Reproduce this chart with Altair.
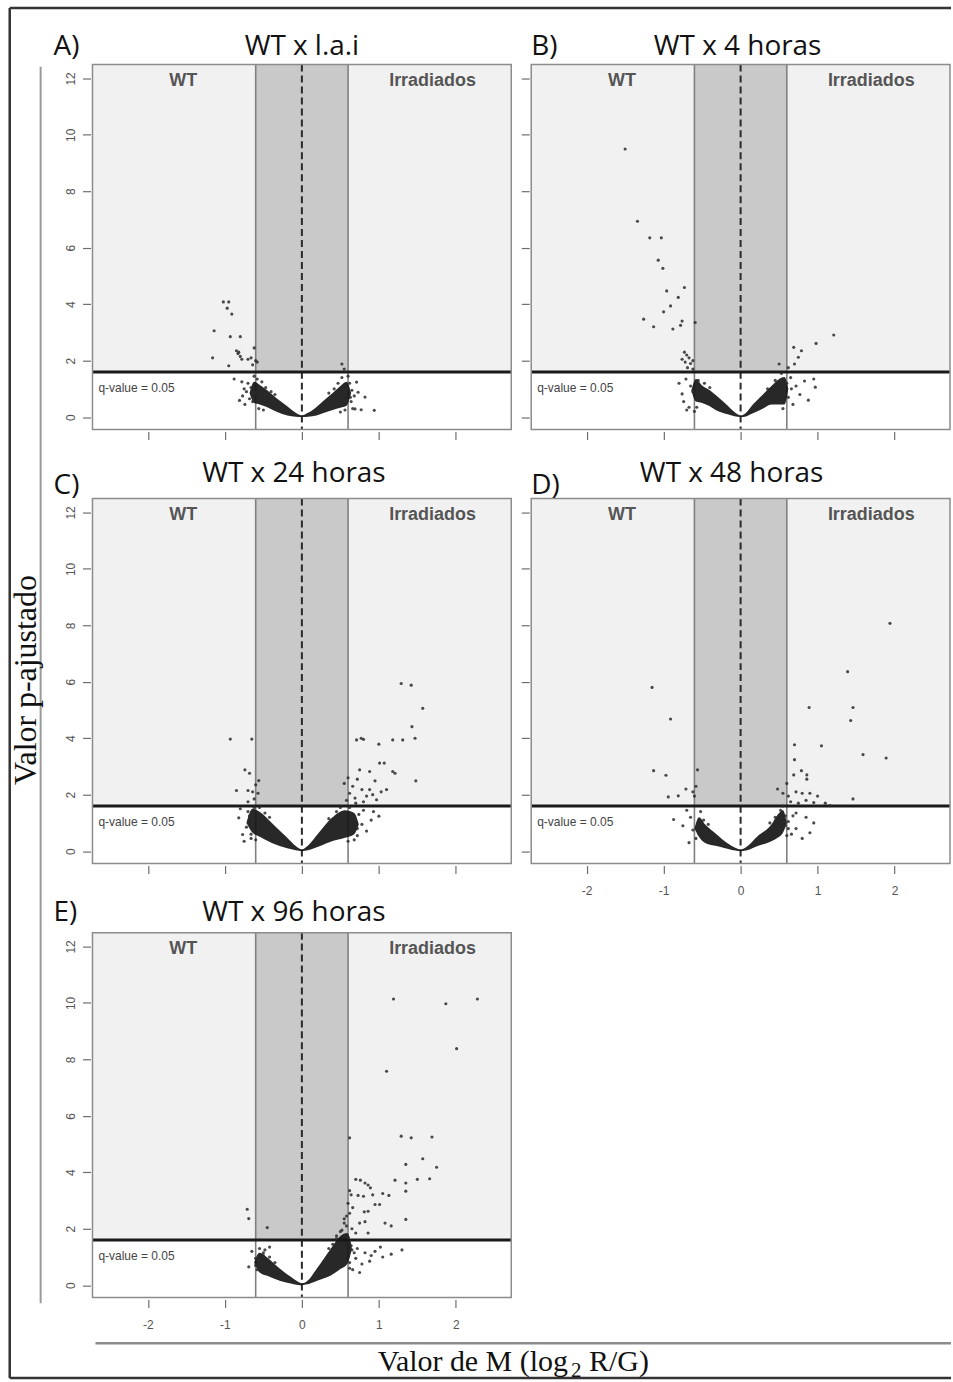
import altair as alt
import pandas as pd

# ---- thresholds, axis ranges and ticks -----------------------------------
FC_CUT = 0.6                 # |M| cut-off (log2 fold change)
Q_LINE = 1.6                 # adjusted p-value line (q-value = 0.05)
X_RANGE = [-2.72, 2.72]
Y_RANGE = [-0.44, 12.49]
X_TICKS = [-2, -1, 0, 1, 2]
Y_TICKS = [0, 2, 4, 6, 8, 10, 12]

PANEL_TITLES = ["WT x l.a.i", "WT x 4 horas", "WT x 24 horas", "WT x 48 horas", "WT x 96 horas"]
PANEL_LETTERS = ["A)", "B)", "C)", "D)", "E)"]
SIDE_LABELS = ["WT", "Irradiados"]
Q_LABEL = "q-value = 0.05"
Y_TITLE = "Valor p-ajustado"
X_TITLE_PARTS = ["Valor de M (log", "2", "R/G)"]

# ---- A) WT x l.a.i --------------------------------------------------------
# dense cloud of non-significant genes: lower / upper envelope along M
A_CORE_X = [-0.68, -0.62, -0.55, -0.45, -0.32, -0.19, -0.08, 0.0, 0.08, 0.19, 0.30, 0.40, 0.50, 0.58, 0.64]
A_CORE_HI = [0.85, 1.25, 1.15, 0.95, 0.65, 0.38, 0.15, 0.06, 0.15, 0.36, 0.62, 0.85, 1.10, 1.25, 0.85]
A_CORE_LO = [0.85, 0.50, 0.45, 0.35, 0.18, 0.06, 0.01, 0.0, 0.01, 0.06, 0.16, 0.25, 0.33, 0.40, 0.85]
A_PTS_X = [-1.02, -0.95, -0.97, -0.91, -1.14, -0.93, -0.80, -1.16, -0.85, -0.83, -0.80, -0.78,
           -0.82, -0.95, -0.70, -0.66, -0.62, -0.60, -0.64, -0.58, 0.52, 0.55,
           -0.88, -0.78, -0.75, -0.81, -0.77, -0.72, -0.70, -0.68, -0.66, -0.64, -0.74, -0.62, -0.60,
           0.62, 0.65, 0.64, 0.66, 0.71, 0.73, 0.82, 0.69, 0.77, 0.94, 0.60, 0.68, 0.58,
           -0.58, -0.52, -0.47, -0.40, -0.35, -0.56, -0.50, 0.35, 0.42, 0.47, 0.52, 0.56, 0.50,
           0.60, 0.63]
A_PTS_Y = [4.08, 4.08, 3.86, 3.65, 3.06, 2.85, 2.85, 2.10, 2.35, 2.25, 2.15, 2.05,
           2.30, 1.82, 2.05, 2.10, 2.45, 2.00, 1.85, 1.95, 1.88, 1.70,
           1.35, 1.25, 1.00, 0.59, 0.75, 0.90, 1.20, 0.65, 1.05, 0.55, 0.45, 1.45, 0.85,
           1.20, 0.95, 0.55, 0.30, 1.24, 0.88, 0.71, 0.29, 0.26, 0.24, 1.45, 0.75, 0.60,
           1.35, 1.25, 1.05, 0.90, 0.80, 0.30, 0.25, 0.85, 1.00, 1.20, 1.40, 0.25, 0.18,
           1.00, 0.70]

# ---- B) WT x 4 horas ------------------------------------------------------
B_CORE_X = [-0.64, -0.58, -0.50, -0.40, -0.32, -0.17, -0.08, 0.0, 0.08, 0.13, 0.28, 0.40, 0.50, 0.57, 0.62]
B_CORE_HI = [0.95, 1.35, 1.12, 0.95, 0.77, 0.41, 0.18, 0.06, 0.18, 0.35, 0.77, 1.10, 1.35, 1.42, 1.00]
B_CORE_LO = [0.95, 0.55, 0.50, 0.38, 0.24, 0.10, 0.03, 0.0, 0.03, 0.10, 0.29, 0.45, 0.45, 0.45, 1.00]
B_PTS_X = [-1.50, -1.34, -1.18, -1.03, -1.07, -1.01, -0.96, -0.73, -0.81, -0.91, -1.00, -1.26,
           -1.13, -0.88, -0.78, -0.76, -0.59, -0.73, -0.70, -0.67, -0.72, -0.65, -0.62, -0.69,
           -0.62, -0.76, 1.21, 0.98, 0.69, 0.79, 0.75, 0.70, 0.50, 0.62,
           0.95, 0.97, 0.83, 0.77, 0.68, 0.72, 0.65, 0.88, 0.62,
           -0.76, -0.71, -0.67, -0.65, -0.74, -0.62, -0.80, -0.70,
           -0.55, -0.47, -0.40, -0.57, -0.60, 0.35, 0.45, 0.53, 0.55, 0.60, 0.66]
B_PTS_Y = [9.50, 6.94, 6.35, 6.35, 5.56, 5.27, 4.47, 4.59, 4.24, 3.94, 3.73, 3.47,
           3.20, 3.12, 3.25, 3.40, 3.35, 2.30, 2.20, 2.10, 1.95, 1.90, 2.00, 1.75,
           1.70, 2.05, 2.91, 2.61, 2.47, 2.35, 2.12, 1.88, 1.88, 1.75,
           1.35, 1.06, 1.28, 0.80, 0.45, 1.10, 1.40, 0.60, 0.70,
           0.82, 1.35, 0.35, 1.10, 0.55, 0.90, 1.20, 0.25,
           1.30, 1.20, 1.05, 0.35, 0.20, 1.00, 1.30, 1.55, 0.30, 1.20, 1.00]

# ---- C) WT x 24 horas -----------------------------------------------------
C_CORE_X = [-0.72, -0.64, -0.56, -0.39, -0.19, -0.08, 0.0, 0.08, 0.22, 0.39, 0.56, 0.68, 0.74]
C_CORE_HI = [1.00, 1.50, 1.41, 1.00, 0.47, 0.18, 0.06, 0.20, 0.65, 1.18, 1.45, 1.35, 0.95]
C_CORE_LO = [1.00, 0.65, 0.53, 0.29, 0.10, 0.03, 0.0, 0.03, 0.16, 0.35, 0.47, 0.60, 0.95]
C_PTS_X = [1.29, 1.42, 1.57, 1.43, 1.47, 1.31, 1.18, 1.00, 0.71, 0.77, 0.80, 1.48, 1.18, 1.21,
           1.01, 1.07, 0.88, 0.75, 1.10, 0.95, 0.88, 0.97, 0.78, 0.69, 0.66, 0.62, 0.58, 0.55,
           0.72, 0.84, 0.92, 1.03, 0.70, 0.80, 0.60,
           -0.93, -0.65, -0.74, -0.68, -0.85, -0.60, -0.56, -0.64, -0.57, -0.70, -0.62, -0.70,
           1.00, 0.84, 0.78, 0.74, 0.90, 0.72, 0.68, 0.80, 0.93, 0.70, 0.64,
           -0.77, -0.82, -0.72, -0.70, -0.80, -0.66, -0.75, -0.68,
           -0.62, -0.55, -0.48, -0.42, -0.60, -0.66, 0.45, 0.50, 0.62, 0.66, 0.72, 0.60, 0.35]
C_PTS_Y = [5.94, 5.88, 5.06, 4.41, 4.00, 3.94, 3.94, 3.79, 3.94, 4.00, 3.96, 2.49, 2.82, 2.76,
           3.12, 3.12, 2.82, 2.88, 2.18, 2.49, 2.18, 1.82, 2.18, 1.88, 2.30, 2.05, 1.80, 2.40,
           2.55, 1.95, 2.00, 2.10, 1.70, 1.75, 2.60,
           3.97, 3.97, 2.88, 2.76, 2.15, 2.35, 2.50, 2.10, 2.05, 2.15, 1.85, 1.75,
           1.24, 0.71, 0.95, 1.30, 1.10, 0.55, 0.40, 1.45, 1.40, 1.10, 1.00,
           0.59, 1.18, 0.85, 1.40, 1.50, 0.45, 0.35, 1.25,
           1.55, 1.55, 1.35, 1.20, 0.40, 0.60, 1.40, 1.55, 1.55, 1.20, 0.80, 0.35, 1.15]

# ---- D) WT x 48 horas -----------------------------------------------------
D_CORE_X = [-0.60, -0.54, -0.46, -0.31, -0.16, -0.07, 0.0, 0.07, 0.22, 0.40, 0.48, 0.55, 0.60]
D_CORE_HI = [0.80, 1.20, 0.94, 0.59, 0.26, 0.12, 0.06, 0.14, 0.53, 0.94, 1.29, 1.45, 1.00]
D_CORE_LO = [0.80, 0.50, 0.29, 0.18, 0.08, 0.02, 0.0, 0.02, 0.18, 0.35, 0.47, 0.65, 1.00]
D_PTS_X = [1.94, 1.39, 0.89, 1.46, 1.43, -1.15, -0.91, 1.05, 0.70, 1.59, 1.89, 0.70, 0.79,
           0.86, 0.69, 0.86, -1.13, -0.97, -0.94, -0.81, -0.71, -0.62, -0.60, -0.56, -0.58,
           0.48, 0.55, 0.62, 0.72, 0.80, 0.90, 1.00, 1.46, 0.65, 0.75, 0.85, 1.10, 0.95, 0.60, 1.16,
           0.72, 0.85, 0.95, 0.72, 0.66, 0.80, 0.62, 0.68, 0.90, -0.87, -0.75, -0.67, -0.62,
           -0.65, -0.70, 0.58,
           -0.52, -0.48, -0.42, -0.55, -0.58, 0.45, 0.52, 0.55, 0.58, 0.62, 0.60, 0.38]
D_PTS_Y = [8.07, 6.36, 5.09, 5.09, 4.63, 5.80, 4.68, 3.73, 3.77, 3.42, 3.30, 3.24, 2.85,
           2.70, 2.70, 2.55, 2.85, 2.69, 1.92, 1.96, 2.20, 2.10, 1.95, 2.88, 2.30,
           2.20, 2.05, 1.95, 2.10, 2.05, 2.05, 1.95, 1.85, 1.75, 1.70, 1.80, 1.70, 1.72, 2.40, 1.61,
           1.35, 1.20, 1.00, 0.80, 0.60, 0.45, 1.05, 1.25, 0.65, 1.12, 0.90, 0.30, 0.75,
           1.20, 1.45, 0.90,
           1.40, 1.10, 0.95, 0.70, 0.45, 1.20, 1.45, 1.60, 1.25, 0.80, 0.55, 1.00]

# ---- E) WT x 96 horas -----------------------------------------------------
E_CORE_X = [-0.62, -0.55, -0.45, -0.28, -0.13, -0.05, 0.0, 0.07, 0.19, 0.37, 0.50, 0.59, 0.65]
E_CORE_HI = [0.80, 1.15, 0.98, 0.57, 0.27, 0.12, 0.07, 0.15, 0.57, 1.27, 1.74, 1.85, 1.30]
E_CORE_LO = [0.80, 0.45, 0.33, 0.15, 0.05, 0.01, 0.0, 0.03, 0.15, 0.33, 0.57, 0.75, 1.30]
E_PTS_X = [1.19, 1.87, 2.28, 2.01, 1.10, 0.62, 1.29, 1.42, 1.69, 1.57, 1.35, 1.75, 1.66, 1.50,
           1.35, 1.21, 1.35, 0.70, 0.76, 0.82, 0.86, 0.89, 0.62, 0.64, 0.73, 0.80, 0.92, 1.05,
           1.13, 0.95, 1.01, 0.86, 0.81, 0.66, 0.62, 0.60, 1.35, 0.75, 0.82, 1.08, 1.16, 0.86,
           0.65, 0.70, 0.58, 0.55, 0.50, 0.45, 0.60,
           -0.71, -0.69, -0.45, -0.69,
           1.16, 1.05, 0.95, 0.90, 0.82, 0.88, 0.78, 0.72, 0.70, 0.66, 0.75, 1.30, 1.02, 0.64,
           0.68, 0.62,
           -0.55, -0.50, -0.60, -0.48, -0.58, -0.42, -0.65,
           -0.55, -0.50, -0.42, -0.35, -0.60, 0.40, 0.45, 0.52, 0.55, 0.58, 0.62, 0.65, 0.62, 0.35]
E_PTS_Y = [10.14, 9.97, 10.14, 8.38, 7.58, 5.22, 5.28, 5.22, 5.25, 4.48, 4.28, 4.18, 3.77, 3.75,
           3.62, 3.72, 3.33, 3.75, 3.72, 3.62, 3.55, 3.45, 3.35, 3.20, 3.18, 3.15, 3.20, 3.25,
           3.18, 2.86, 2.86, 2.62, 2.60, 2.75, 2.55, 2.90, 2.33, 2.20, 2.25, 2.20, 2.10, 1.85,
           2.00, 1.85, 2.10, 2.35, 1.90, 1.75, 1.70,
           2.69, 2.36, 2.04, 0.65,
           1.10, 1.00, 1.20, 1.05, 1.15, 0.85, 0.75, 1.30, 0.95, 0.55, 0.45, 1.25, 1.35, 1.40,
           1.15, 0.80,
           1.30, 1.05, 0.95, 1.25, 0.55, 1.35, 1.20,
           0.85, 1.15, 1.00, 0.80, 0.70, 1.45, 1.65, 1.95, 2.20, 2.45, 1.50, 1.25, 0.60, 1.30]

PANEL_DATA = [
    (A_PTS_X, A_PTS_Y, A_CORE_X, A_CORE_LO, A_CORE_HI),
    (B_PTS_X, B_PTS_Y, B_CORE_X, B_CORE_LO, B_CORE_HI),
    (C_PTS_X, C_PTS_Y, C_CORE_X, C_CORE_LO, C_CORE_HI),
    (D_PTS_X, D_PTS_Y, D_CORE_X, D_CORE_LO, D_CORE_HI),
    (E_PTS_X, E_PTS_Y, E_CORE_X, E_CORE_LO, E_CORE_HI),
]

# ---- layout (pixels, relative to each plot area) --------------------------
W, H = 420, 366
TITLE_POS = [(210, -9.4), (207, -9.4), (202, -16.3), (201, -16.3), (202, -11.6)]
LETTER_POS = [(-39, -9.4), (0, -9.4), (-39, -4.7), (0, -4.7), (-39, -11.6)]
SHOW_X_LABELS = [False, False, False, True, True]
SHOW_Y_LABELS = [True, False, True, False, True]

TITLE_FONT = "Open Sans"
SANS = "Liberation Sans"
SERIF = "Liberation Serif"
HYPHEN_MINUS = "datum.value < 0 ? '-' + abs(datum.value) : '' + datum.value"


def one_row(text=""):
    return pd.DataFrame({"label": [text]})


def text_at(text, x, y, **style):
    return alt.Chart(one_row(text)).mark_text(**style).encode(
        x=alt.value(x), y=alt.value(y), text="label:N"
    )


def line_at(x, x2, y, y2, **style):
    return alt.Chart(one_row()).mark_rule(**style).encode(
        x=alt.value(x), x2=alt.value(x2), y=alt.value(y), y2=alt.value(y2)
    )


def panel(i):
    pts_x, pts_y, core_x, core_lo, core_hi = PANEL_DATA[i]

    xs = alt.Scale(domain=X_RANGE, nice=False, zero=False)
    ys = alt.Scale(domain=Y_RANGE, nice=False, zero=False)
    x_axis = alt.Axis(
        values=X_TICKS, labels=SHOW_X_LABELS[i], ticks=True, tickSize=8, tickColor="#6e6e6e",
        tickWidth=1.2, domain=False, grid=False, title=None, offset=2, labelFontSize=12,
        labelColor="#555555", labelPadding=12, labelFont=SANS, labelExpr=HYPHEN_MINUS,
    )
    y_axis = alt.Axis(
        values=Y_TICKS, labels=SHOW_Y_LABELS[i], ticks=True, tickSize=8, tickColor="#6e6e6e",
        tickWidth=1.2, domain=False, grid=False, title=None, offset=2, labelFontSize=12,
        labelColor="#555555", labelPadding=5, labelFont=SANS, labelAngle=270,
        labelAlign="center", labelBaseline="bottom",
    )

    def X(field):
        return alt.X(field, type="quantitative", scale=xs, axis=x_axis)

    def Y(field):
        return alt.Y(field, type="quantitative", scale=ys, axis=y_axis)

    regions = pd.DataFrame({
        "x0": [X_RANGE[0], -FC_CUT],
        "x1": [X_RANGE[1], FC_CUT],
        "y0": [Q_LINE, Q_LINE],
        "y1": [Y_RANGE[1], Y_RANGE[1]],
        "fill": ["#f1f1f1", "#c9c9c9"],
    })
    shade = alt.Chart(regions).mark_rect().encode(
        x=X("x0"), x2="x1", y=Y("y0"), y2="y1", color=alt.Color("fill:N", scale=None)
    )

    cuts = alt.Chart(pd.DataFrame({"m": [-FC_CUT, FC_CUT]})).mark_rule(
        color="#808080", strokeWidth=1.6
    ).encode(x=X("m"))

    zero = alt.Chart(pd.DataFrame({"m": [0.0]})).mark_rule(
        color="#2a2a2a", strokeWidth=2, strokeDash=[7, 4]
    ).encode(x=X("m"))

    qline = alt.Chart(pd.DataFrame({"q": [Q_LINE]})).mark_rule(
        color="#1a1a1a", strokeWidth=3
    ).encode(y=Y("q"))

    core = alt.Chart(pd.DataFrame({"m": core_x, "lo": core_lo, "hi": core_hi})).mark_area(
        color="#161616", interpolate="monotone", opacity=0.92
    ).encode(x=X("m"), y=Y("hi"), y2="lo")

    points = alt.Chart(pd.DataFrame({"m": pts_x, "p": pts_y})).mark_circle(
        size=10, color="#2b2b2b", opacity=0.85
    ).encode(x=X("m"), y=Y("p"))

    frame = alt.Chart(one_row()).mark_rect(
        filled=False, stroke="#8c8c8c", strokeWidth=1.5
    ).encode(x=alt.value(0), x2=alt.value(W), y=alt.value(0), y2=alt.value(H))

    side_style = dict(font=SANS, fontSize=18, fontWeight="bold", color="#555555",
                      align="center", baseline="middle")
    wt = text_at(SIDE_LABELS[0], 91, 16.5, **side_style)
    irr = text_at(SIDE_LABELS[1], 341, 16.5, **side_style)
    qlab = text_at(Q_LABEL, 6, 324, font=SANS, fontSize=12, color="#444444",
                   align="left", baseline="middle")

    tx, ty = TITLE_POS[i]
    title = text_at(PANEL_TITLES[i], tx, ty, font=TITLE_FONT, fontSize=28, color="#111111",
                    align="center", baseline="alphabetic")
    lx, ly = LETTER_POS[i]
    letter = text_at(PANEL_LETTERS[i], lx, ly, font=TITLE_FONT, fontSize=28, color="#111111",
                     align="left", baseline="alphabetic")

    layers = [shade, cuts, zero, qline, core, points, frame, wt, irr, qlab, title, letter]

    if i == 0:
        # figure-wide decorations, drawn relative to the first panel
        layers += [
            line_at(-83, 861, -56.7, -56.7, color="#333333", strokeWidth=2.5),
            line_at(-83, -83, -56.7, 1317.3, color="#333333", strokeWidth=2.5),
            line_at(-83, 861, 1317.3, 1317.3, color="#333333", strokeWidth=2.5),
            line_at(-52, -52, 2.3, 1242.3, color="#9a9a9a", strokeWidth=2),
            line_at(3, 861, 1282.3, 1282.3, color="#8c8c8c", strokeWidth=2.5),
            text_at(Y_TITLE, -67, 617.3, font=SERIF, fontSize=32, color="#111111",
                    angle=270, align="center", baseline="middle"),
            text_at(X_TITLE_PARTS[0], 286, 1310.3, font=SERIF, fontSize=30, color="#111111",
                    align="left", baseline="alphabetic"),
            text_at(X_TITLE_PARTS[1], 480, 1316.3, font=SERIF, fontSize=21, color="#111111",
                    align="left", baseline="alphabetic"),
            text_at(X_TITLE_PARTS[2], 498, 1310.3, font=SERIF, fontSize=30, color="#111111",
                    align="left", baseline="alphabetic"),
        ]

    return alt.layer(*layers).properties(width=W, height=H)


chart = alt.concat(
    *[panel(i) for i in range(5)], columns=2, spacing={"row": 69.3, "column": 20}, bounds="flush"
).properties(
    padding={"left": 7.75, "top": 4.75, "right": 0, "bottom": 0},
    background="white",
).configure_view(stroke=None)

chart.save("out.html", embed_options={"renderer": "svg", "actions": False})
